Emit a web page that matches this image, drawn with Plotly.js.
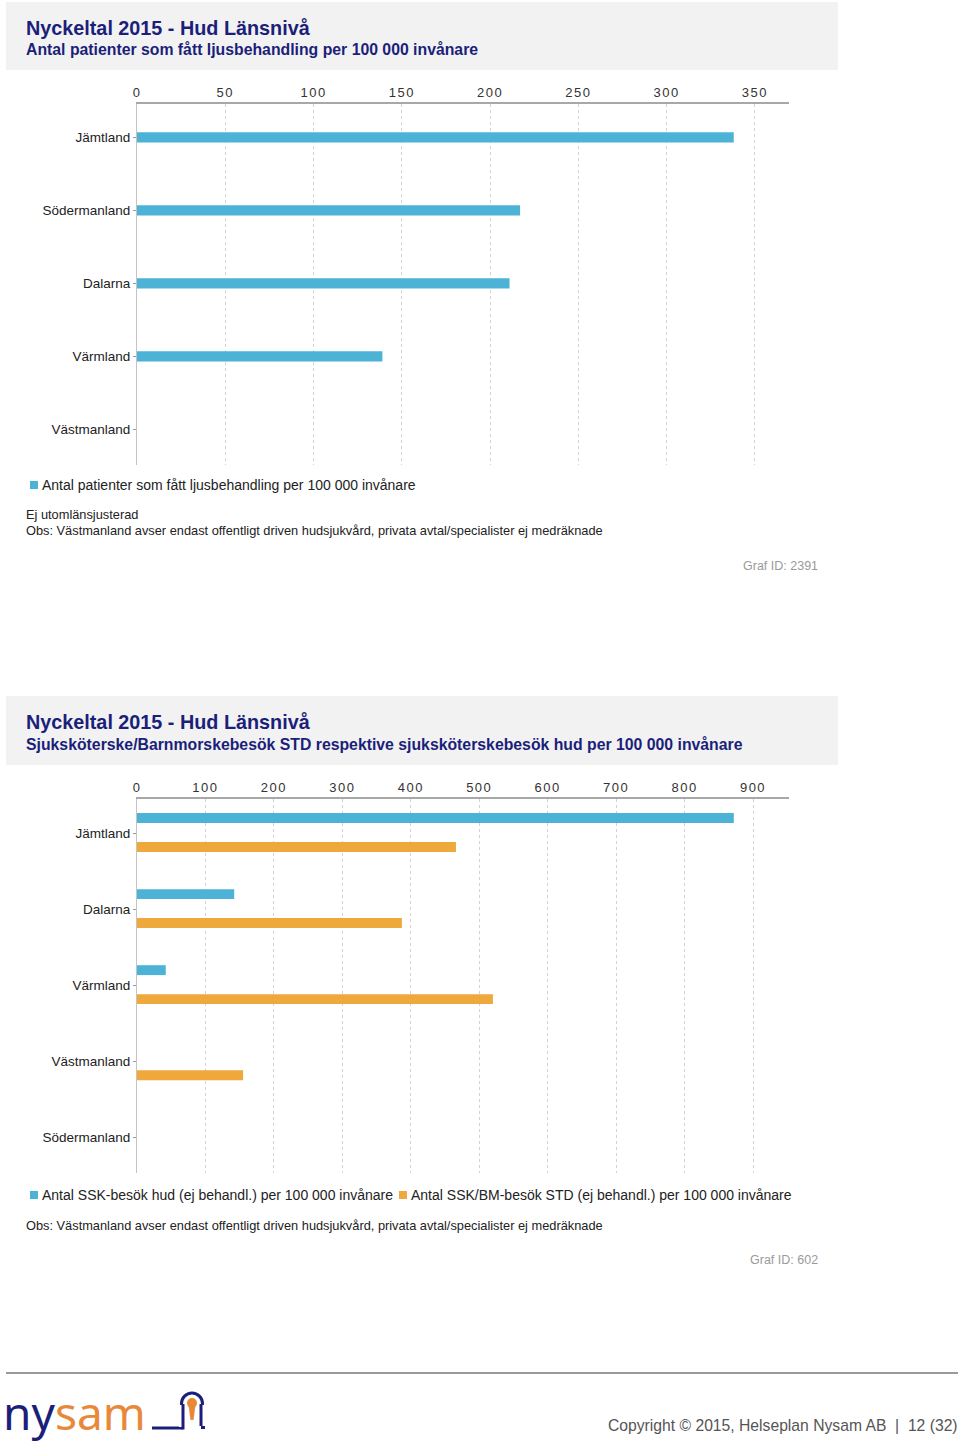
<!DOCTYPE html>
<html><head><meta charset="utf-8">
<script src="https://cdn.plot.ly/plotly-3.0.1.min.js"></script>
<style>
html,body{margin:0;padding:0;background:#fff}
#chart{width:960px;height:1442px}
.xtick text, .x2tick text {letter-spacing:1.5px}
</style>
</head><body><div id="chart"></div>
<script>
// ---- data ----
const regions1 = ['Jämtland','Södermanland','Dalarna','Värmland','Västmanland'];
const ljusbehandling = [338, 217, 211, 139, null];
const ticks1 = [0,50,100,150,200,250,300,350];

const regions2 = ['Jämtland','Dalarna','Värmland','Västmanland','Södermanland'];
const sskHud = [872, 142, 42, null, null];
const sskStd = [466, 387, 520, 155, null];
const ticks2 = [0,100,200,300,400,500,600,700,800,900];

const name1 = 'Antal patienter som fått ljusbehandling per 100 000 invånare';
const name2a = 'Antal SSK-besök hud (ej behandl.) per 100 000 invånare';
const name2b = 'Antal SSK/BM-besök STD (ej behandl.) per 100 000 invånare';

// ---- helpers ----
const W = 960, H = 1442;
const px = x => x / W;
const py = y => 1 - y / H;
const FONT = 'Liberation Sans, Arial, sans-serif';
const NAVY = '#1b1f7a';
const BLUE = '#4db3d6';
const ORANGE = '#eea83c';
const LOGO_ORANGE = '#e8893a';

const traces = [
  {type:'bar', orientation:'h', y:regions1, x:ljusbehandling, name:name1,
   xaxis:'x', yaxis:'y', marker:{color:BLUE}, width:0.14},
  {type:'bar', orientation:'h', y:regions2, x:sskHud, name:name2a,
   xaxis:'x2', yaxis:'y2', marker:{color:BLUE}, width:0.13, offset:-0.262},
  {type:'bar', orientation:'h', y:regions2, x:sskStd, name:name2b,
   xaxis:'x2', yaxis:'y2', marker:{color:ORANGE}, width:0.13, offset:0.119}
];

const xCommon = {side:'top', showline:true, linecolor:'#a8a8a8', linewidth:2,
  showgrid:true, gridcolor:'#d2d2d2', griddash:'3px,3px', gridwidth:1, zeroline:false,
  ticks:'', tickfont:{family:FONT, size:13, color:'#333'}, fixedrange:true};
const yCommon = {type:'category', showgrid:false, showline:true, linecolor:'#c4c4c4', linewidth:1,
  ticks:'outside', ticklen:3, tickcolor:'#999', tickfont:{family:FONT, size:13.5, color:'#222'},
  zeroline:false, fixedrange:true};

function ann(text, x, y, size, color, anchor, family) {
  return {text:text, x:px(x), y:py(y), xref:'paper', yref:'paper', xanchor:anchor || 'left',
    yanchor:'middle', showarrow:false, font:{family:family || FONT, size:size, color:color}};
}
function sq(x, y, color) {
  return {type:'rect', xref:'paper', yref:'paper', x0:px(x), x1:px(x+8), y0:py(y+4), y1:py(y-4),
    fillcolor:color, line:{width:0}};
}
function ln(x0, y0, x1, y1, color, w) {
  return {type:'line', xref:'paper', yref:'paper', x0:px(x0), x1:px(x1), y0:py(y0), y1:py(y1), line:{color:color, width:w}};
}

const layout = {
  width:W, height:H, margin:{l:0,r:0,t:0,b:0},
  paper_bgcolor:'#fff', plot_bgcolor:'rgba(0,0,0,0)',
  font:{family:FONT, color:'#222'},
  barmode:'overlay', showlegend:false,
  xaxis: Object.assign({}, xCommon, {domain:[px(137), px(789)], range:[0,369.3], tickvals:ticks1, anchor:'y'}),
  yaxis: Object.assign({}, yCommon, {domain:[py(465), py(104)], range:[4.49,-0.458], anchor:'x'}),
  xaxis2: Object.assign({}, xCommon, {domain:[px(137), px(789)], range:[0,952.6], tickvals:ticks2, anchor:'y2'}),
  yaxis2: Object.assign({}, yCommon, {domain:[py(1173), py(799)], range:[4.47,-0.447], anchor:'x2'}),
  shapes:[
    {type:'rect', xref:'paper', yref:'paper', x0:px(6), x1:px(838), y0:py(70), y1:py(2), fillcolor:'#f2f2f2', line:{width:0}, layer:'below'},
    {type:'rect', xref:'paper', yref:'paper', x0:px(6), x1:px(838), y0:py(765), y1:py(696), fillcolor:'#f2f2f2', line:{width:0}, layer:'below'},
    ln(6, 1373, 958, 1373, '#9a9a9a', 2),
    // legend swatches
    sq(30, 485, BLUE),
    sq(30, 1195, BLUE),
    sq(399, 1195, ORANGE),
    // logo keyhole
    ln(152, 1428, 183, 1428, NAVY, 3),
    {type:'circle', xref:'paper', yref:'paper', x0:px(181.5), x1:px(202.5), y0:py(1414), y1:py(1393), line:{color:NAVY, width:3}, fillcolor:'rgba(0,0,0,0)'},
    {type:'rect', xref:'paper', yref:'paper', x0:px(179), x1:px(205), y0:py(1427), y1:py(1405), line:{width:0}, fillcolor:'#fff'},
    ln(183, 1429.5, 183, 1404, NAVY, 3),
    ln(201, 1426, 201, 1404, NAVY, 3),
    ln(201, 1427.5, 205, 1427.5, NAVY, 3),
    {type:'circle', xref:'paper', yref:'paper', x0:px(187), x1:px(197), y0:py(1408), y1:py(1398), line:{width:0}, fillcolor:LOGO_ORANGE},
    {type:'path', xref:'paper', yref:'paper',
     path:'M '+px(188.5)+','+py(1405)+' L '+px(195.5)+','+py(1405)+' L '+px(193.5)+','+py(1420)+' L '+px(190.5)+','+py(1420)+' Z',
     line:{width:0}, fillcolor:LOGO_ORANGE}
  ],
  annotations:[
    ann('<b>Nyckeltal 2015 - Hud Länsnivå</b>', 24, 28, 19.8, NAVY),
    ann('<b>Antal patienter som fått ljusbehandling per 100 000 invånare</b>', 24, 50, 15.8, NAVY),
    ann(name1, 40, 485, 14, '#222'),
    ann('Ej utomlänsjusterad', 24, 514, 12.8, '#222'),
    ann('Obs: Västmanland avser endast offentligt driven hudsjukvård, privata avtal/specialister ej medräknade', 24, 530, 12.8, '#222'),
    ann('Graf ID: 2391', 820, 566, 12.5, '#9a9a9a', 'right'),
    ann('<b>Nyckeltal 2015 - Hud Länsnivå</b>', 24, 722, 19.8, NAVY),
    ann('<b>Sjuksköterske/Barnmorskebesök STD respektive sjuksköterskebesök hud per 100 000 invånare</b>', 24, 744, 15.8, NAVY),
    ann(name2a, 40, 1195, 14, '#222'),
    ann(name2b, 409, 1195, 14, '#222'),
    ann('Obs: Västmanland avser endast offentligt driven hudsjukvård, privata avtal/specialister ej medräknade', 24, 1225, 12.8, '#222'),
    ann('Graf ID: 602', 820, 1260, 12.5, '#9a9a9a', 'right'),
    ann('<span style="color:#1b1f7a">ny</span><span style="color:#e8893a">sam</span>', 1, 1412, 46, NAVY, 'left', 'Noto Sans, sans-serif'),
    ann('Copyright © 2015, Helseplan Nysam AB  |  12 (32)', 960, 1425, 15.7, '#555', 'right')
  ]
};

Plotly.newPlot('chart', traces, layout, {displayModeBar:false, staticPlot:true});
</script>
</body></html>
